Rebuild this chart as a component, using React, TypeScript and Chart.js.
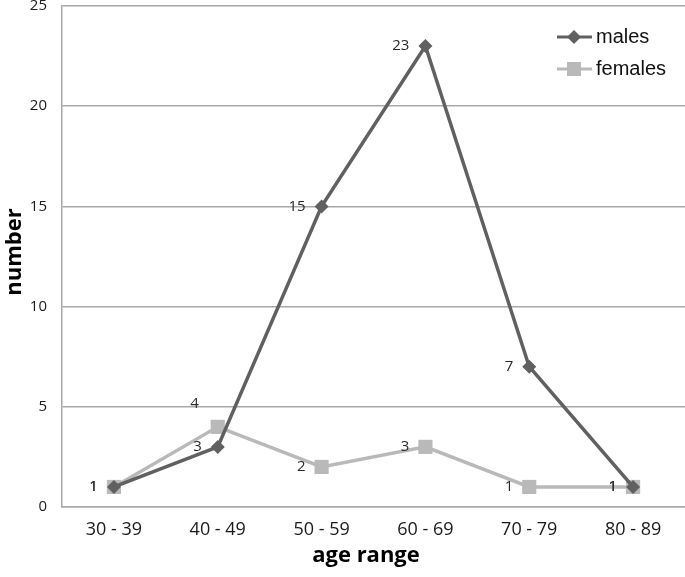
import React, { useEffect, useRef } from "react";
import { Chart, registerables } from "chart.js";

Chart.register(...registerables);

const categories = ["30 - 39", "40 - 49", "50 - 59", "60 - 69", "70 - 79", "80 - 89"];
const males = [1, 3, 15, 23, 7, 1];
const females = [1, 4, 2, 3, 1, 1];
const yTicks = [0, 5, 10, 15, 20, 25];
const xTitle = "age range";
const yTitle = "number";

const MALE_COLOR = "#606060";
const FEMALE_COLOR = "#b9b9b9";
const GRID = "#a8a8a8";

const labelsPlugin = {
  id: "pointLabels",
  afterDatasetsDraw(chart: any) {
    const ctx = chart.ctx;
    ctx.save();
    ctx.font = '15px "Open Sans"';
    ctx.fillStyle = "#2a2a2a";
    ctx.textAlign = "right";
    ctx.textBaseline = "middle";
    [1, 0].forEach((di) => {
      const meta = chart.getDatasetMeta(di);
      const data = chart.data.datasets[di].data;
      meta.data.forEach((pt: any, i: number) => {
        let x = pt.x - 16;
        let y = pt.y;
        // the female 40-49 label sits above-left in the original
        if (di === 1 && i === 1) {
          x = pt.x - 19;
          y = pt.y - 23;
        }
        ctx.fillText(String(data[i]), x, y);
      });
    });
    ctx.restore();
  },
};

const decorPlugin = {
  id: "decor",
  afterDraw(chart: any) {
    const ctx = chart.ctx;
    const items = [
      { text: "males", color: MALE_COLOR, style: "diamond", y: 37 },
      { text: "females", color: FEMALE_COLOR, style: "square", y: 69 },
    ];
    ctx.save();
    items.forEach((it) => {
      ctx.strokeStyle = it.color;
      ctx.lineWidth = 3;
      ctx.beginPath();
      ctx.moveTo(557, it.y);
      ctx.lineTo(592, it.y);
      ctx.stroke();
      ctx.fillStyle = it.color;
      const cx = 574;
      if (it.style === "diamond") {
        ctx.beginPath();
        ctx.moveTo(cx - 7, it.y);
        ctx.lineTo(cx, it.y - 7);
        ctx.lineTo(cx + 7, it.y);
        ctx.lineTo(cx, it.y + 7);
        ctx.closePath();
        ctx.fill();
      } else {
        ctx.fillRect(cx - 7, it.y - 7, 14, 14);
      }
      ctx.fillStyle = "#111";
      ctx.font = '20px "Liberation Sans"';
      ctx.textAlign = "left";
      ctx.textBaseline = "middle";
      ctx.fillText(it.text, 596, it.y);
    });

    // axis titles
    ctx.fillStyle = "#000";
    ctx.font = 'bold 22px "Open Sans"';
    ctx.textAlign = "center";
    ctx.textBaseline = "middle";
    ctx.fillText(xTitle, 366, 556);
    ctx.translate(15, 252);
    ctx.rotate(-Math.PI / 2);
    ctx.fillText(yTitle, 0, 0);
    ctx.restore();
  },
};

export default function App() {
  const ref = useRef<HTMLCanvasElement>(null);

  useEffect(() => {
    if (!ref.current) return;
    const chart = new Chart(ref.current, {
      type: "line",
      data: {
        labels: categories,
        datasets: [
          {
            label: "males",
            data: males,
            borderColor: MALE_COLOR,
            backgroundColor: MALE_COLOR,
            borderWidth: 3.5,
            pointStyle: "rectRot",
            pointRadius: 7,
            pointHoverRadius: 7,
            pointBorderWidth: 0,
            tension: 0,
          },
          {
            label: "females",
            data: females,
            borderColor: FEMALE_COLOR,
            backgroundColor: FEMALE_COLOR,
            borderWidth: 3.5,
            pointStyle: "rect",
            pointRadius: 10,
            pointHoverRadius: 10,
            pointBorderWidth: 0,
            tension: 0,
          },
        ],
      },
      options: {
        responsive: false,
        animation: false,
        devicePixelRatio: 1,
        layout: { autoPadding: false, padding: { top: 6, right: 0, left: 0, bottom: 0 } },
        plugins: {
          legend: { display: false },
          tooltip: { enabled: false },
        },
        scales: {
          x: {
            offset: true,
            grid: { display: false, drawTicks: false },
            border: { display: true, color: GRID, width: 1.5 },
            ticks: {
              font: { family: "Open Sans", size: 18 },
              color: "#1a1a1a",
              padding: 12,
              maxRotation: 0,
            },
            afterFit: (scale: any) => {
              scale.height = 70;
              scale.paddingLeft = 0;
              scale.paddingRight = 0;
            },
          },
          y: {
            min: 0,
            max: 25,
            afterBuildTicks: (scale: any) => {
              scale.ticks = yTicks.map((v) => ({ value: v }));
            },
            grid: { color: GRID, lineWidth: 1.5, drawTicks: false },
            border: { display: true, color: GRID, width: 1.5 },
            ticks: {
              font: { family: "Open Sans", size: 15 },
              color: "#1a1a1a",
              padding: 15,
            },
            afterFit: (scale: any) => {
              scale.width = 62;
              scale.paddingTop = 0;
              scale.paddingBottom = 0;
            },
          },
        },
      },
      plugins: [labelsPlugin, decorPlugin],
    });
    return () => chart.destroy();
  }, []);

  return (
    <div style={{ position: "fixed", left: 0, top: 0, width: 685, height: 577, background: "#fff" }}>
      <canvas ref={ref} width={685} height={577} style={{ display: "block" }} />
    </div>
  );
}
